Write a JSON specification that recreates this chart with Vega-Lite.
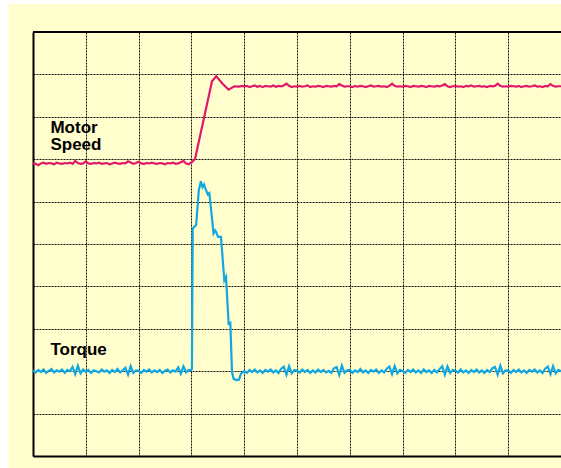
{
  "$schema": "https://vega.github.io/schema/vega-lite/v6.json",
  "width": 528,
  "height": 424,
  "autosize": {"type": "none"},
  "padding": {"left": 33, "top": 32, "right": 0, "bottom": 12},
  "background": "#FFFECC",
  "config": {
    "view": {"stroke": null},
    "axis": {
      "grid": true,
      "gridDash": [2, 1],
      "gridColor": "#111111",
      "gridOpacity": 1,
      "gridWidth": 1,
      "domain": true,
      "domainColor": "#000000",
      "domainWidth": 2,
      "ticks": false,
      "labels": false
    }
  },
  "data": {
    "values": [
      {"t":0.00,"s":6.91,"q":2.02},{"t":0.05,"s":6.89,"q":1.97},{"t":0.10,"s":6.86,"q":2.03},{"t":0.15,"s":6.90,"q":1.98},{"t":0.20,"s":6.92,"q":2.04},
      {"t":0.25,"s":6.89,"q":1.96},{"t":0.30,"s":6.91,"q":2.01},{"t":0.35,"s":6.90,"q":2.05},{"t":0.40,"s":6.88,"q":1.97},{"t":0.45,"s":6.92,"q":2.02},
      {"t":0.50,"s":6.90,"q":1.99},{"t":0.55,"s":6.89,"q":2.04},{"t":0.60,"s":6.91,"q":1.96},{"t":0.65,"s":6.90,"q":2.03},{"t":0.70,"s":6.92,"q":2.00},
      {"t":0.75,"s":6.89,"q":2.10},{"t":0.80,"s":6.96,"q":1.93},{"t":0.85,"s":6.91,"q":2.13},{"t":0.90,"s":6.89,"q":1.95},{"t":0.95,"s":6.90,"q":2.04},
      {"t":1.00,"s":6.95,"q":1.98},{"t":1.05,"s":6.90,"q":2.03},{"t":1.10,"s":6.89,"q":1.96},{"t":1.15,"s":6.91,"q":2.02},{"t":1.20,"s":6.90,"q":2.00},
      {"t":1.25,"s":6.92,"q":1.97},{"t":1.30,"s":6.89,"q":2.04},{"t":1.35,"s":6.90,"q":1.99},{"t":1.40,"s":6.91,"q":2.02},{"t":1.45,"s":6.88,"q":1.96},
      {"t":1.50,"s":6.90,"q":2.03},{"t":1.55,"s":6.92,"q":1.98},{"t":1.60,"s":6.90,"q":2.05},{"t":1.65,"s":6.89,"q":1.97},{"t":1.70,"s":6.91,"q":2.02},
      {"t":1.75,"s":6.90,"q":2.08},{"t":1.80,"s":6.95,"q":1.92},{"t":1.85,"s":6.92,"q":2.12},{"t":1.90,"s":6.89,"q":1.96},{"t":1.95,"s":6.91,"q":2.02},
      {"t":2.00,"s":6.94,"q":2.01},{"t":2.05,"s":6.90,"q":1.96},{"t":2.10,"s":6.89,"q":2.03},{"t":2.15,"s":6.91,"q":1.99},{"t":2.20,"s":6.90,"q":2.04},
      {"t":2.25,"s":6.92,"q":1.97},{"t":2.30,"s":6.90,"q":2.02},{"t":2.35,"s":6.89,"q":1.98},{"t":2.40,"s":6.91,"q":2.03},{"t":2.45,"s":6.90,"q":1.96},
      {"t":2.50,"s":6.88,"q":2.01},{"t":2.55,"s":6.91,"q":2.04},{"t":2.60,"s":6.90,"q":1.97},{"t":2.65,"s":6.92,"q":2.02},{"t":2.70,"s":6.89,"q":1.99},
      {"t":2.75,"s":6.90,"q":2.09},{"t":2.80,"s":6.93,"q":1.94},{"t":2.85,"s":6.96,"q":2.11},{"t":2.90,"s":6.90,"q":1.97},{"t":2.95,"s":6.88,"q":2.03},
      {"t":2.98,"s":6.91,"q":2.02},{"t":3.01,"s":6.93,"q":2.05},{"t":3.025,"s":null,"q":5.36},{"t":3.05,"s":null,"q":5.40},{"t":3.07,"s":7.01,"q":null},
      {"t":3.09,"s":null,"q":5.45},{"t":3.14,"s":7.41,"q":6.27},{"t":3.18,"s":null,"q":6.48},{"t":3.21,"s":null,"q":6.34},{"t":3.24,"s":null,"q":6.40},
      {"t":3.265,"s":null,"q":6.31},{"t":3.31,"s":null,"q":6.17},{"t":3.34,"s":null,"q":6.20},{"t":3.39,"s":8.84,"q":null},{"t":3.42,"s":null,"q":5.25},
      {"t":3.45,"s":null,"q":5.32},{"t":3.47,"s":8.955,"q":5.28},{"t":3.505,"s":null,"q":5.17},{"t":3.56,"s":null,"q":5.17},{"t":3.59,"s":8.78,"q":null},
      {"t":3.624,"s":null,"q":4.14},{"t":3.656,"s":null,"q":4.22},{"t":3.705,"s":8.64,"q":3.12},{"t":3.737,"s":null,"q":3.14},{"t":3.769,"s":null,"q":1.98},
      {"t":3.80,"s":null,"q":1.82},{"t":3.813,"s":8.72,"q":null},{"t":3.86,"s":null,"q":1.79},{"t":3.90,"s":8.71,"q":1.80},{"t":3.94,"s":null,"q":1.94},
      {"t":3.97,"s":8.73,"q":1.97},{"t":4.00,"s":8.72,"q":2.00},
      {"t":4.05,"s":8.73,"q":1.96},{"t":4.10,"s":8.70,"q":2.03},{"t":4.15,"s":8.72,"q":1.98},{"t":4.20,"s":8.74,"q":2.04},{"t":4.25,"s":8.71,"q":1.97},
      {"t":4.30,"s":8.73,"q":2.02},{"t":4.35,"s":8.70,"q":1.96},{"t":4.40,"s":8.73,"q":2.03},{"t":4.45,"s":8.72,"q":1.99},{"t":4.50,"s":8.71,"q":2.04},
      {"t":4.55,"s":8.74,"q":1.97},{"t":4.60,"s":8.71,"q":2.02},{"t":4.65,"s":8.73,"q":1.96},{"t":4.70,"s":8.72,"q":2.06},{"t":4.75,"s":8.74,"q":2.11},
      {"t":4.80,"s":8.78,"q":1.92},{"t":4.85,"s":8.73,"q":2.12},{"t":4.90,"s":8.70,"q":1.95},{"t":4.95,"s":8.72,"q":2.03},
      {"t":5.00,"s":8.71,"q":2.01},{"t":5.05,"s":8.73,"q":1.97},{"t":5.10,"s":8.71,"q":2.04},{"t":5.15,"s":8.72,"q":1.98},{"t":5.20,"s":8.74,"q":2.03},
      {"t":5.25,"s":8.70,"q":1.96},{"t":5.30,"s":8.72,"q":2.02},{"t":5.35,"s":8.71,"q":1.97},{"t":5.40,"s":8.73,"q":2.04},{"t":5.45,"s":8.72,"q":1.98},
      {"t":5.50,"s":8.70,"q":2.03},{"t":5.55,"s":8.73,"q":1.97},{"t":5.60,"s":8.72,"q":2.01},{"t":5.65,"s":8.71,"q":1.96},{"t":5.70,"s":8.73,"q":2.07},
      {"t":5.75,"s":8.72,"q":2.10},{"t":5.80,"s":8.77,"q":1.91},{"t":5.85,"s":8.74,"q":2.13},{"t":5.90,"s":8.71,"q":1.96},{"t":5.95,"s":8.72,"q":2.02},
      {"t":6.00,"s":8.72,"q":2.03},{"t":6.05,"s":8.70,"q":1.96},{"t":6.10,"s":8.73,"q":2.02},{"t":6.15,"s":8.71,"q":1.98},{"t":6.20,"s":8.73,"q":2.05},
      {"t":6.25,"s":8.72,"q":1.97},{"t":6.30,"s":8.70,"q":2.02},{"t":6.35,"s":8.72,"q":1.96},{"t":6.40,"s":8.74,"q":2.03},{"t":6.45,"s":8.71,"q":1.99},
      {"t":6.50,"s":8.72,"q":2.04},{"t":6.55,"s":8.73,"q":1.96},{"t":6.60,"s":8.71,"q":2.02},{"t":6.65,"s":8.72,"q":1.97},{"t":6.70,"s":8.70,"q":2.06},
      {"t":6.75,"s":8.73,"q":2.11},{"t":6.80,"s":8.78,"q":1.93},{"t":6.85,"s":8.73,"q":2.12},{"t":6.90,"s":8.71,"q":1.95},{"t":6.95,"s":8.72,"q":2.03},
      {"t":7.00,"s":8.71,"q":2.00},{"t":7.05,"s":8.73,"q":1.96},{"t":7.10,"s":8.72,"q":2.03},{"t":7.15,"s":8.70,"q":1.98},{"t":7.20,"s":8.73,"q":2.04},
      {"t":7.25,"s":8.72,"q":1.97},{"t":7.30,"s":8.71,"q":2.02},{"t":7.35,"s":8.73,"q":1.96},{"t":7.40,"s":8.72,"q":2.04},{"t":7.45,"s":8.70,"q":1.98},
      {"t":7.50,"s":8.73,"q":2.02},{"t":7.55,"s":8.72,"q":1.96},{"t":7.60,"s":8.71,"q":2.03},{"t":7.65,"s":8.73,"q":1.97},{"t":7.70,"s":8.72,"q":2.05},
      {"t":7.75,"s":8.74,"q":2.12},{"t":7.80,"s":8.77,"q":1.92},{"t":7.85,"s":8.72,"q":2.11},{"t":7.90,"s":8.70,"q":1.96},{"t":7.95,"s":8.72,"q":2.03},
      {"t":8.00,"s":8.73,"q":2.01},{"t":8.05,"s":8.71,"q":1.97},{"t":8.10,"s":8.72,"q":2.04},{"t":8.15,"s":8.70,"q":1.97},{"t":8.20,"s":8.73,"q":2.02},
      {"t":8.25,"s":8.72,"q":1.96},{"t":8.30,"s":8.74,"q":2.03},{"t":8.35,"s":8.71,"q":1.98},{"t":8.40,"s":8.72,"q":2.04},{"t":8.45,"s":8.73,"q":1.97},
      {"t":8.50,"s":8.71,"q":2.02},{"t":8.55,"s":8.72,"q":1.96},{"t":8.60,"s":8.70,"q":2.03},{"t":8.65,"s":8.73,"q":1.98},{"t":8.70,"s":8.72,"q":2.07},
      {"t":8.75,"s":8.73,"q":2.10},{"t":8.80,"s":8.78,"q":1.92},{"t":8.85,"s":8.73,"q":2.13},{"t":8.90,"s":8.71,"q":1.95},{"t":8.95,"s":8.72,"q":2.02},
      {"t":9.00,"s":8.71,"q":2.02},{"t":9.05,"s":8.73,"q":1.96},{"t":9.10,"s":8.72,"q":2.03},{"t":9.15,"s":8.71,"q":1.98},{"t":9.20,"s":8.73,"q":2.04},
      {"t":9.25,"s":8.70,"q":1.97},{"t":9.30,"s":8.72,"q":2.02},{"t":9.35,"s":8.73,"q":1.96},{"t":9.40,"s":8.71,"q":2.03},{"t":9.45,"s":8.72,"q":1.99},
      {"t":9.50,"s":8.74,"q":2.04},{"t":9.55,"s":8.71,"q":1.97},{"t":9.60,"s":8.72,"q":2.02},{"t":9.65,"s":8.70,"q":1.96},{"t":9.70,"s":8.73,"q":2.06},
      {"t":9.75,"s":8.72,"q":2.11},{"t":9.80,"s":8.77,"q":1.93},{"t":9.85,"s":8.73,"q":2.12},{"t":9.90,"s":8.71,"q":1.95},{"t":9.95,"s":8.72,"q":2.03},
      {"t":10.00,"s":8.72,"q":2.00}
    ]
  },
  "layer": [
    {
      "transform": [{"filter": "isValid(datum.s)"}],
      "mark": {"type": "line", "color": "#E2186A", "strokeWidth": 2.2, "interpolate": "linear"},
      "encoding": {
        "x": {"field": "t", "type": "quantitative", "scale": {"domain": [0, 10], "nice": false, "zero": false},
              "axis": {"title": null, "values": [0,1,2,3,4,5,6,7,8,9,10], "orient": "bottom"}},
        "y": {"field": "s", "type": "quantitative", "scale": {"domain": [0, 10], "nice": false, "zero": false},
              "axis": {"title": null, "values": [0,1,2,3,4,5,6,7,8,9,10], "orient": "left"}}
      }
    },
    {
      "transform": [{"filter": "isValid(datum.q)"}],
      "mark": {"type": "line", "color": "#12A7E3", "strokeWidth": 2.2, "interpolate": "linear"},
      "encoding": {
        "x": {"field": "t", "type": "quantitative", "title": null},
        "y": {"field": "q", "type": "quantitative", "title": null}
      }
    },
    {
      "data": {"values": [{}]},
      "mark": {"type": "rect", "clip": false, "color": "#FFFFFF"},
      "encoding": {
        "x": {"datum": -0.8, "type": "quantitative"},
        "x2": {"datum": -0.46},
        "y": {"datum": -1, "type": "quantitative"},
        "y2": {"datum": 11}
      }
    },
    {
      "data": {"values": [{}]},
      "mark": {"type": "rect", "clip": false, "color": "#FFFFFF"},
      "encoding": {
        "x": {"datum": -0.8, "type": "quantitative"},
        "x2": {"datum": 10.5},
        "y": {"datum": 10.66, "type": "quantitative"},
        "y2": {"datum": 11.5}
      }
    },
    {
      "data": {"values": [{}]},
      "mark": {"type": "rule", "clip": false, "color": "#000000", "strokeWidth": 2},
      "encoding": {
        "x": {"datum": 0, "type": "quantitative"},
        "x2": {"datum": 10},
        "y": {"datum": 10, "type": "quantitative"}
      }
    },
    {
      "data": {"values": [
        {"label": "Motor", "t": 0.33, "v": 7.62},
        {"label": "Speed", "t": 0.33, "v": 7.21},
        {"label": "Torque", "t": 0.33, "v": 2.375}
      ]},
      "mark": {"type": "text", "align": "left", "baseline": "alphabetic", "font": "Liberation Sans", "fontWeight": "bold", "fontSize": 17, "color": "#000000"},
      "encoding": {
        "x": {"field": "t", "type": "quantitative", "title": null},
        "y": {"field": "v", "type": "quantitative", "title": null},
        "text": {"field": "label"}
      }
    }
  ]
}
